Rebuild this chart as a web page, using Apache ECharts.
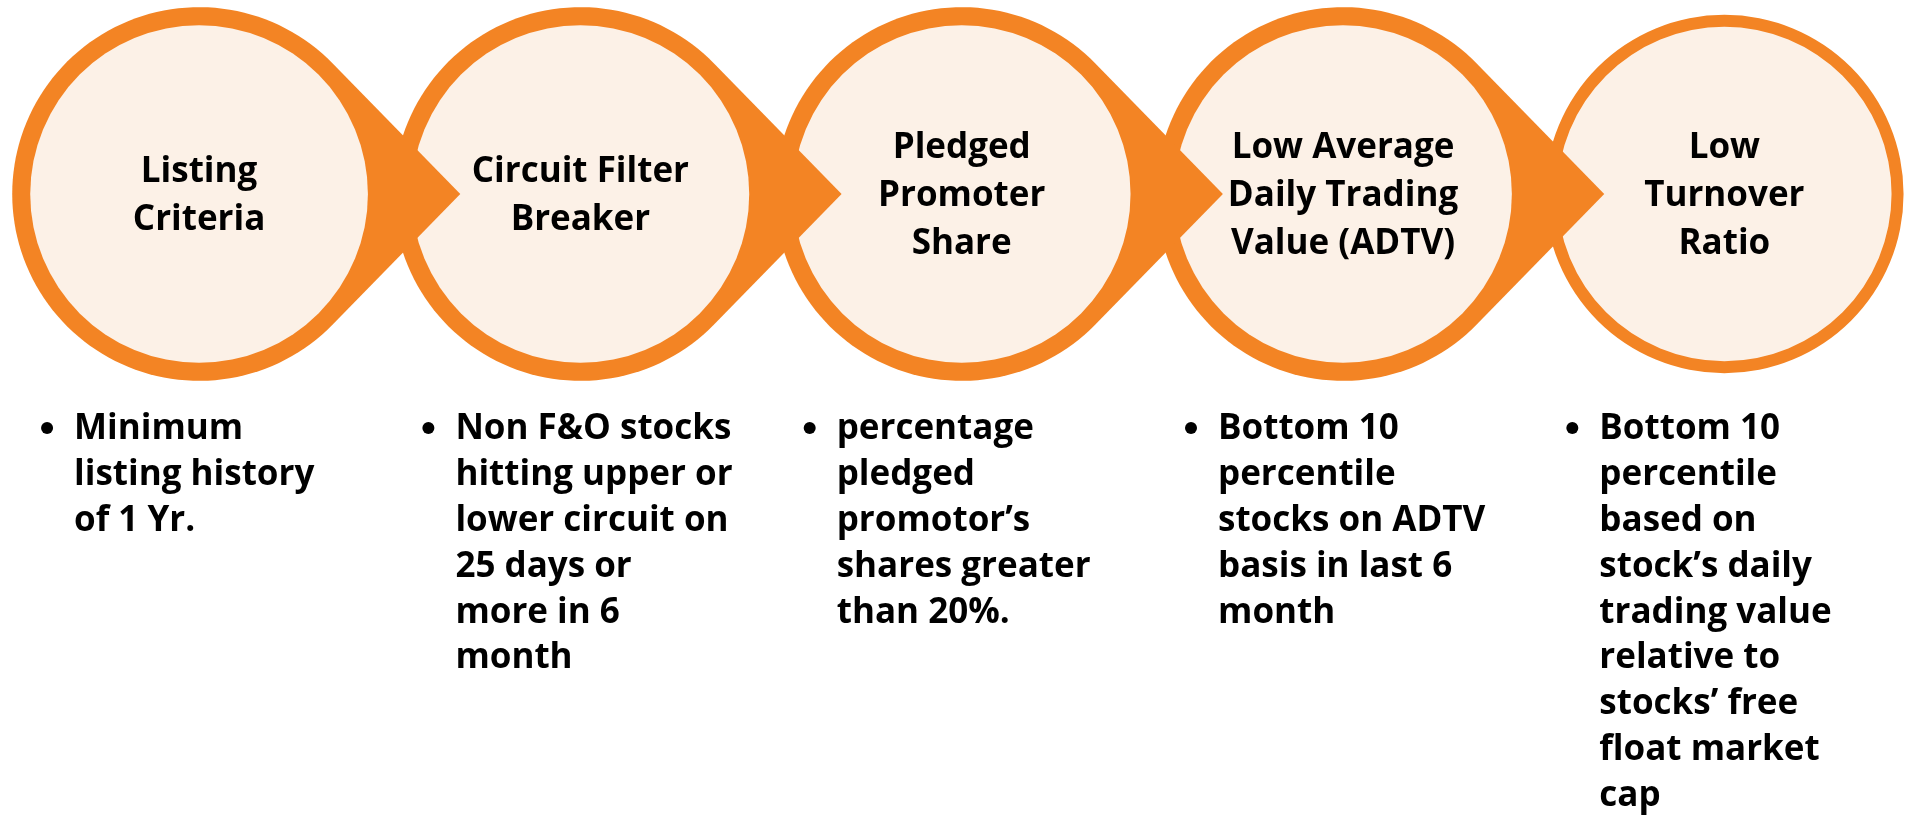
<!DOCTYPE html>
<html>
<head>
<meta charset="utf-8">
<title>Stock filter criteria</title>
<script src="https://cdn.jsdelivr.net/npm/echarts@6/dist/echarts.min.js"></script>
<style>
  html, body { margin: 0; padding: 0; background: #fff; }
  #flow { width: 1915px; height: 821px; }
</style>
</head>
<body>
<div id="flow"></div>
<script>
var myChart = echarts.init(document.getElementById('flow'));

// steps of the filter, left to right
var steps = ['Listing\nCriteria', 'Circuit Filter\nBreaker', 'Pledged\nPromoter\nShare',
  'Low Average\nDaily Trading\nValue (ADTV)', 'Low\nTurnover\nRatio'];
// bullet text under each step (line breaks as in the slide)
var details = [
  ['Minimum', 'listing history', 'of 1 Yr.'],
  ['Non F&O stocks', 'hitting upper or', 'lower circuit on', '25 days or', 'more in 6', 'month'],
  ['percentage', 'pledged', 'promotor\u2019s', 'shares greater', 'than 20%.'],
  ['Bottom 10', 'percentile', 'stocks on ADTV', 'basis in last 6', 'month'],
  ['Bottom 10', 'percentile', 'based on', 'stock\u2019s daily', 'trading value', 'relative to',
    'stocks\u2019 free', 'float market', 'cap']
];
var stepIndex = steps.map(function (s, i) { return i; });

var orange = '#F38424';
var light = '#FCF1E7';
var font = '"Open Sans", "Liberation Sans", sans-serif';
var circleRow = 194;   // y of circle centres
var textRow = 406;     // top of the bullet text
var lineH = 45.9;

function renderStep(params, api) {
  var i = api.value(0);
  var c = api.coord([i, circleRow]);
  var step = api.size([1, 0])[0];
  var last = i === steps.length - 1;
  var R = last ? step * 0.47 : step * 0.49;
  var ring = last ? 12 : 18;
  var tip = step * 0.685;
  var children = [];
  var z = (steps.length - i) * 10;

  if (last) {
    children.push({ type: 'circle', shape: { cx: c[0], cy: c[1], r: R }, style: { fill: orange }, z2: z });
  } else {
    var th = Math.acos(R / tip);
    var pts = [];
    var n = 120;
    for (var k = 0; k <= n; k++) {
      var a = th + (2 * Math.PI - 2 * th) * k / n;
      pts.push([c[0] + R * Math.cos(a), c[1] + R * Math.sin(a)]);
    }
    pts.push([c[0] + tip, c[1]]);
    children.push({ type: 'polygon', shape: { points: pts }, style: { fill: orange }, z2: z });
  }
  children.push({ type: 'circle', shape: { cx: c[0], cy: c[1], r: R - ring }, style: { fill: light }, z2: z + 1 });
  children.push({
    type: 'text', z2: 100,
    style: {
      text: steps[i], x: c[0], y: c[1] + 2, fill: '#000',
      fontSize: 35, fontWeight: 'bold', fontFamily: font,
      lineHeight: 48, align: 'center', verticalAlign: 'middle'
    }
  });
  // bullet list
  children.push({ type: 'circle', shape: { cx: c[0] - 152, cy: textRow + 22, r: 6 }, style: { fill: '#000' }, z2: 100 });
  children.push({
    type: 'text', z2: 100,
    style: {
      text: details[i].join('\n'), x: c[0] - 125, y: textRow, fill: '#000',
      fontSize: 35, fontWeight: 'bold', fontFamily: font,
      lineHeight: lineH, align: 'left', verticalAlign: 'top'
    }
  });
  return { type: 'group', children: children };
}

var option = {
  backgroundColor: '#ffffff',
  animation: false,
  grid: { left: 8.4, top: 0, width: 1916.25, height: 821 },
  xAxis: { type: 'value', min: -0.5, max: 4.5, show: false },
  yAxis: { type: 'value', min: 0, max: 821, inverse: true, show: false },
  series: [{
    type: 'custom',
    renderItem: renderStep,
    clip: false,
    data: stepIndex.map(function (i) { return [i]; })
  }]
};

myChart.setOption(option);
</script>
</body>
</html>
